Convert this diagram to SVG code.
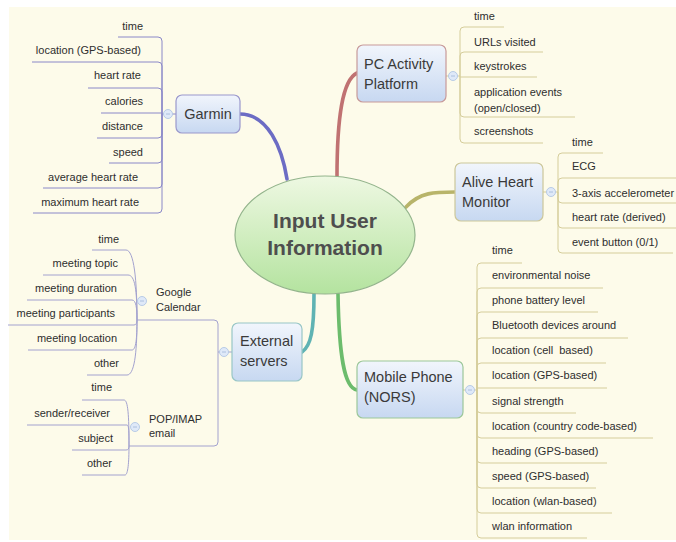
<svg xmlns="http://www.w3.org/2000/svg" width="676" height="542" viewBox="0 0 676 542">
<defs>
<linearGradient id="gNode" x1="0" y1="0" x2="0" y2="1"><stop offset="0" stop-color="#f1f5fc"/><stop offset="1" stop-color="#c7d8f1"/></linearGradient>
<linearGradient id="gCenter" x1="0" y1="0" x2="0" y2="1"><stop offset="0" stop-color="#eef8e2"/><stop offset="1" stop-color="#b4e39f"/></linearGradient>
<style>
.leaf{font-family:"Liberation Sans",Arial,sans-serif;font-size:11px;fill:#2e2e2e}
.nt{font-family:"Liberation Sans",Arial,sans-serif;font-size:14.5px;fill:#3a3a3a}
.ct{font-family:"Liberation Sans",Arial,sans-serif;font-size:21px;font-weight:bold;fill:#4e4e4e}
.end{text-anchor:end}
.br{fill:none;stroke-width:1}
.tan{stroke:#d5cd9a}
.pur{stroke:#8a88c8}
.lav{stroke:#a3a2cf}
.main{fill:none;stroke-width:3.6;stroke-linecap:round}
.box{fill:url(#gNode);stroke-width:1.2}
.btn{fill:#dfe9f8;stroke:#a9c0e2;stroke-width:0.8}
.btnm{stroke:#9fb5d8;stroke-width:0.8}
</style>
</defs>
<rect x="0" y="0" width="676" height="542" fill="#ffffff"/>
<rect x="9" y="7" width="667" height="533" fill="#fdfbea"/>

<g id="connectors">
<path class="main" stroke="#6c6cc4" d="M240,114 C268,114 282,148 287,179"/>
<path class="main" stroke="#c07272" d="M357,73 C342,80 337,120 337,177"/>
<path class="main" stroke="#b8b46a" d="M406,207 C420,192 435,192 455,192"/>
<path class="main" stroke="#5fb3b3" d="M314,294 C314,330 311,346 302,352"/>
<path class="main" stroke="#6cbc6c" d="M338,294 C339,355 344,388 357,390"/>
<!-- Garmin branches -->
<g class="br pur">
<path d="M176,114 H172.5 M163.5,114 H162"/>
<path d="M162,114 V41 Q162,37 158,37 H118"/>
<path d="M162,114 V66 Q162,62 158,62 H32"/>
<path d="M162,114 V92 Q162,88 158,88 H88"/>
<path d="M162,113 H101"/>
<path d="M162,114 V134 Q162,138 158,138 H97"/>
<path d="M162,114 V159 Q162,163 158,163 H109"/>
<path d="M162,114 V184 Q162,188 158,188 H43"/>
<path d="M162,114 V209 Q162,213 158,213 H33"/>
</g>
<!-- PC branches -->
<g class="br tan">
<path d="M446,76 H448.5 M457.5,76 H460"/>
<path d="M460,76 V31 Q460,27 464,27 H504"/>
<path d="M460,76 V56 Q460,52 464,52 H543"/>
<path d="M460,77 H537"/>
<path d="M460,76 V113 Q460,117 464,117 H575"/>
<path d="M460,76 V139 Q460,143 464,143 H543"/>
</g>
<!-- Alive branches -->
<g class="br tan">
<path d="M543,192 H546.5 M555.5,192 H558"/>
<path d="M558,192 V157 Q558,153 562,153 H603"/>
<path d="M558,192 V182 Q558,178 562,178 H676"/>
<path d="M558,192 V199 Q558,203 562,203 H676"/>
<path d="M558,192 V224 Q558,228 562,228 H676"/>
<path d="M558,192 V249 Q558,253 562,253 H673"/>
</g>
<!-- Mobile branches -->
<g class="br tan">
<path d="M463,390 H465.5 M474.5,390 H477"/>
<path d="M477,390 V267 Q477,263 481,263 H522"/>
<path d="M477,390 V292 Q477,288 481,288 H603"/>
<path d="M477,390 V316 Q477,312 481,312 H598"/>
<path d="M477,390 V342 Q477,338 481,338 H628"/>
<path d="M477,390 V367 Q477,363 481,363 H606"/>
<path d="M477,388 H607"/>
<path d="M477,390 V409 Q477,413 481,413 H576"/>
<path d="M477,390 V434 Q477,438 481,438 H653"/>
<path d="M477,390 V459 Q477,463 481,463 H607"/>
<path d="M477,390 V484 Q477,488 481,488 H596"/>
<path d="M477,390 V509 Q477,513 481,513 H612"/>
<path d="M477,390 V534 Q477,538 481,538 H587"/>
</g>
<!-- External branches -->
<g class="br lav">
<path d="M232,352 H228.5 M219.5,352 H218"/>
<path d="M218,352 V324 Q218,320 214,320 H137"/>
<path d="M218,352 V442 Q218,446 214,446 H129"/>
<path d="M137,320 C137,280 134,250 126,250 H92"/>
<path d="M137,320 C137,290 135,275 128,275 H43"/>
<path d="M137,320 C137,308 136,300 132,300 H27"/>
<path d="M137,320 C137,323 136,325 134,325 H8"/>
<path d="M137,320 C137,338 136,350 132,350 H28"/>
<path d="M137,320 C137,355 134,375 127,375 H87"/>
<path d="M129,446 C129,415 128,400 124,400 H82"/>
<path d="M129,446 C129,432 129,425 127,425 H27"/>
<path d="M129,446 C129,449 128,450 126,450 H72"/>
<path d="M129,446 C129,462 128,475 125,475 H82"/>
</g>
</g>

<g id="center">
<ellipse cx="325" cy="235" rx="90" ry="59" fill="url(#gCenter)" stroke="#93b48c" stroke-width="1.2"/>
<text class="ct" x="325" y="228" text-anchor="middle">Input User</text>
<text class="ct" x="325" y="255" text-anchor="middle">Information</text>
</g>

<g id="garmin">
<rect class="box" x="176" y="95" width="64" height="38" rx="6" stroke="#9a98cc"/>
<text class="nt" x="208" y="119" text-anchor="middle">Garmin</text>
<circle class="btn" cx="168" cy="114" r="4.5"/><path class="btnm" d="M166,114 H170"/>
</g>
<g id="garmin-items">
<text class="leaf end" x="143" y="30">time</text>
<text class="leaf end" x="141" y="54">location (GPS-based)</text>
<text class="leaf end" x="141" y="79">heart rate</text>
<text class="leaf end" x="143" y="105">calories</text>
<text class="leaf end" x="143" y="130">distance</text>
<text class="leaf end" x="143" y="156">speed</text>
<text class="leaf end" x="138" y="181">average heart rate</text>
<text class="leaf end" x="139" y="206">maximum heart rate</text>
</g>

<g id="pc">
<rect class="box" x="357" y="45" width="89" height="57" rx="6" stroke="#c79a9a"/>
<text class="nt" x="364" y="69">PC Activity</text>
<text class="nt" x="364" y="89">Platform</text>
<circle class="btn" cx="453" cy="76" r="4.5"/><path class="btnm" d="M451,76 H455"/>
</g>
<g id="pc-items">
<text class="leaf" x="474" y="20">time</text>
<text class="leaf" x="474" y="46">URLs visited</text>
<text class="leaf" x="474" y="70">keystrokes</text>
<text class="leaf" x="474" y="96">application events</text>
<text class="leaf" x="474" y="112">(open/closed)</text>
<text class="leaf" x="474" y="135">screenshots</text>
</g>

<g id="alive">
<rect class="box" x="455" y="163" width="88" height="58" rx="6" stroke="#ccc79a"/>
<text class="nt" x="462" y="187">Alive Heart</text>
<text class="nt" x="462" y="207">Monitor</text>
<circle class="btn" cx="551" cy="192" r="4.5"/><path class="btnm" d="M549,192 H553"/>
</g>
<g id="alive-items">
<text class="leaf" x="572" y="146">time</text>
<text class="leaf" x="572" y="170">ECG</text>
<text class="leaf" x="572" y="197">3-axis accelerometer</text>
<text class="leaf" x="572" y="221">heart rate (derived)</text>
<text class="leaf" x="572" y="246">event button (0/1)</text>
</g>

<g id="mobile">
<rect class="box" x="357" y="361" width="106" height="57" rx="6" stroke="#9cc79a"/>
<text class="nt" x="364" y="382">Mobile Phone</text>
<text class="nt" x="364" y="402">(NORS)</text>
<circle class="btn" cx="470" cy="390" r="4.5"/><path class="btnm" d="M468,390 H472"/>
</g>
<g id="mobile-items">
<text class="leaf" x="492" y="254">time</text>
<text class="leaf" x="492" y="279">environmental noise</text>
<text class="leaf" x="492" y="304">phone battery level</text>
<text class="leaf" x="492" y="329">Bluetooth devices around</text>
<text class="leaf" x="492" y="354" style="white-space:pre">location (cell  based)</text>
<text class="leaf" x="492" y="379">location (GPS-based)</text>
<text class="leaf" x="492" y="405">signal strength</text>
<text class="leaf" x="492" y="430">location (country code-based)</text>
<text class="leaf" x="492" y="455">heading (GPS-based)</text>
<text class="leaf" x="492" y="480">speed (GPS-based)</text>
<text class="leaf" x="492" y="505">location (wlan-based)</text>
<text class="leaf" x="492" y="530">wlan information</text>
</g>

<g id="external">
<rect class="box" x="232" y="323" width="70" height="58" rx="6" stroke="#98c6c6"/>
<text class="nt" x="240" y="346">External</text>
<text class="nt" x="240" y="366">servers</text>
<circle class="btn" cx="224" cy="352" r="4.5"/><path class="btnm" d="M222,352 H226"/>
</g>

<g id="google-calendar">
<text class="leaf" x="156" y="296">Google</text>
<text class="leaf" x="156" y="311">Calendar</text>
<circle class="btn" cx="142" cy="301" r="4.5"/><path class="btnm" d="M140,301 H144"/>
</g>
<g id="google-items">
<text class="leaf end" x="119" y="243">time</text>
<text class="leaf end" x="118" y="267">meeting topic</text>
<text class="leaf end" x="117" y="292">meeting duration</text>
<text class="leaf end" x="115" y="317">meeting participants</text>
<text class="leaf end" x="117" y="342">meeting location</text>
<text class="leaf end" x="119" y="367">other</text>
</g>

<g id="pop-imap">
<text class="leaf" x="149" y="423">POP/IMAP</text>
<text class="leaf" x="149" y="437">email</text>
<circle class="btn" cx="135" cy="427" r="4.5"/><path class="btnm" d="M133,427 H137"/>
</g>
<g id="pop-items">
<text class="leaf end" x="112" y="391">time</text>
<text class="leaf end" x="110" y="417">sender/receiver</text>
<text class="leaf end" x="113" y="442">subject</text>
<text class="leaf end" x="112" y="467">other</text>
</g>
</svg>
